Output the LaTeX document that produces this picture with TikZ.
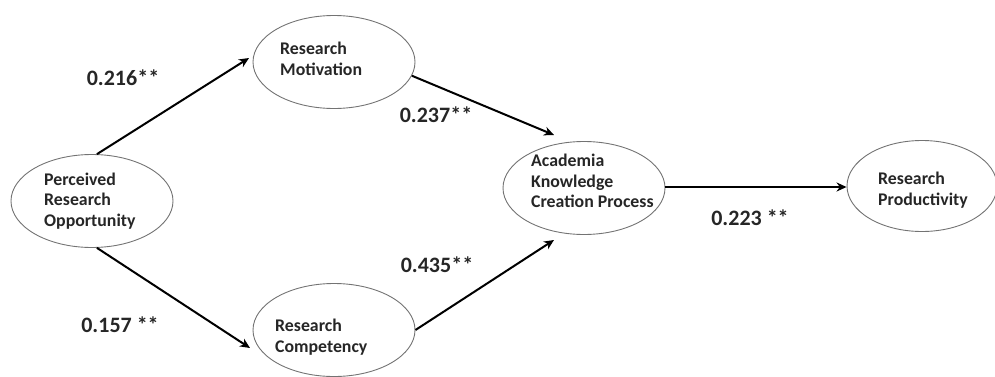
\documentclass[tikz,border=0pt]{standalone}
\usepackage{fontspec}
\setmainfont{Carlito}
\usetikzlibrary{shapes.geometric,arrows.meta}
\begin{document}
\begin{tikzpicture}[x=1pt,y=1pt,
  construct/.style={ellipse, draw=black!55, line width=0.9pt, inner sep=0pt,
    minimum width=162pt, minimum height=93pt},
  ctext/.style={anchor=west, inner sep=0pt, align=left, font=\fontsize{17.8}{20.5}\selectfont\bfseries, text=black!85},
  path/.style={line width=2pt, -{Stealth[length=10pt,width=9pt]}},
  coef/.style={font=\fontsize{22}{24}\selectfont\bfseries, text=black!85}]
\useasboundingbox (0,0) rectangle (995,376);
\node[construct] (pro) at (92,175) {};
\node[construct] (mot) at (334,314) {};
\node[construct] (com) at (334,46) {};
\node[construct] (akc) at (584,188) {};
\node[construct, minimum width=150pt, minimum height=91pt] (rp) at (922,190) {};
\node[ctext] (tpro) at (44,175) {Perceived\\Research\\Opportunity};
\node[ctext] (tmot) at (280,317) {Research\\Motivation};
\node[ctext] (tcom) at (275,39) {Research\\Competency};
\node[ctext] (takc) at (531,195) {Academia\\Knowledge\\Creation Process};
\node[ctext] (trp) at (878,186) {Research\\Productivity};
\coordinate (e1) at (249,318);
\coordinate (e2) at (250,28);
\coordinate (e3) at (554,241);
\coordinate (e4) at (554,136);
\draw[path] (pro.84) -- (e1);
\draw[path] (pro.-84) -- (e2);
\draw[path] (mot.-10) -- (e3);
\draw[path] (com.0) -- (e4);
\draw[path] (akc.east |- 0,189) -- (rp.west |- 0,189);
\node[coef] (c1) at (123,298) {0.216**};
\node[coef] (c2) at (436,261) {0.237**};
\node[coef] (c3) at (120,51) {0.157 **};
\node[coef] (c4) at (437,111) {0.435**};
\node[coef] (c5) at (750,158) {0.223 **};
\end{tikzpicture}
\end{document}
